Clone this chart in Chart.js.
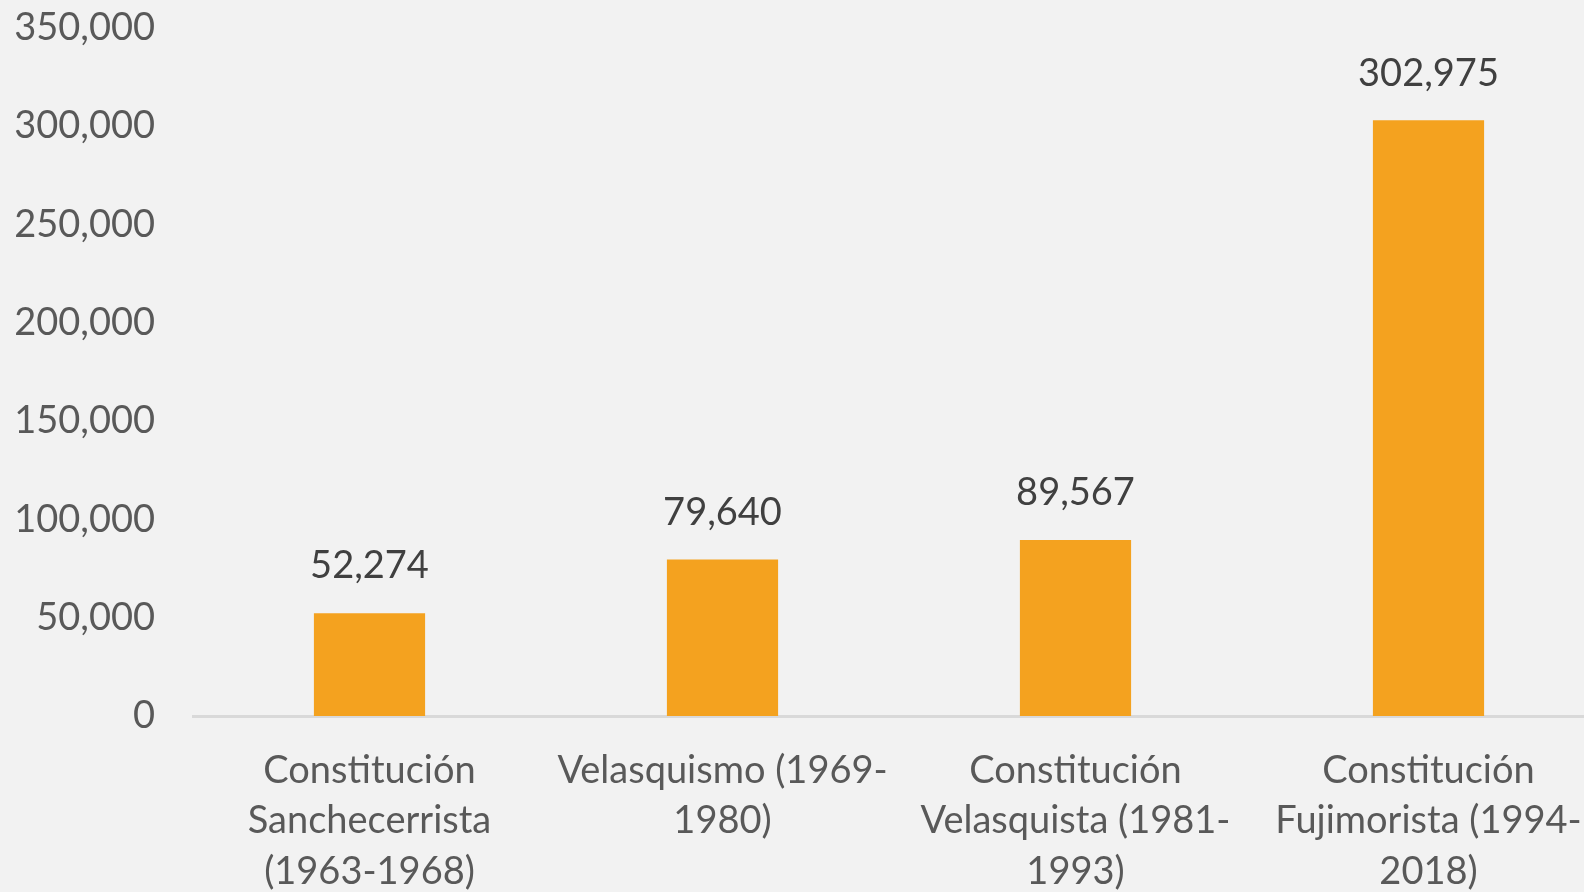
<!DOCTYPE html>
<html>
<head>
<meta charset="utf-8">
<script src="https://cdn.jsdelivr.net/npm/chart.js@4.4.1/dist/chart.umd.min.js"></script>
<style>
  html, body { margin: 0; padding: 0; background: #f2f2f2; overflow: hidden; }
  #wrap { position: relative; top: -25px; width: 1608px; height: 917px; }
</style>
</head>
<body>
<div id="wrap"><canvas id="chart"></canvas></div>
<script>
// Periods and values
const categories = [
  ['Constitución', 'Sanchecerrista', '(1963-1968)'],
  ['Velasquismo (1969-', '1980)'],
  ['Constitución', 'Velasquista (1981-', '1993)'],
  ['Constitución', 'Fujimorista (1994-', '2018)']
];
const values = [52274, 79640, 89567, 302975];
const yTicks = [0, 50000, 100000, 150000, 200000, 250000, 300000, 350000];

const fmt = (v) => v.toLocaleString('en-US');

// draws value labels above each bar
const barLabels = {
  id: 'barLabels',
  afterDatasetsDraw(chart) {
    const ctx = chart.ctx;
    const meta = chart.getDatasetMeta(0);
    ctx.save();
    ctx.fillStyle = '#404040';
    ctx.font = '38px Lato';
    ctx.textAlign = 'center';
    ctx.textBaseline = 'bottom';
    meta.data.forEach((bar, i) => {
      ctx.fillText(fmt(values[i]), bar.x, bar.y - 28);
    });
    ctx.restore();
  }
};

Chart.defaults.font.family = 'Lato';
Chart.defaults.color = '#595959';

new Chart(document.getElementById('chart').getContext('2d'), {
  type: 'bar',
  data: {
    labels: categories,
    datasets: [{
      data: values,
      backgroundColor: '#f4a21f',
      categoryPercentage: 1,
      barPercentage: 0.315
    }]
  },
  options: {
    responsive: true,
    maintainAspectRatio: false,
    animation: false,
    layout: { padding: { top: 6, right: 3, left: 0, bottom: 0 } },
    plugins: { legend: { display: false }, tooltip: { enabled: false } },
    scales: {
      x: {
        grid: { display: false },
        border: { color: '#d9d9d9', width: 3 },
        ticks: { font: { size: 38, lineHeight: 1.32 }, padding: 22, maxRotation: 0, autoSkip: false },
        afterFit: (s) => { s.height = 176; }
      },
      y: {
        min: 0,
        max: 350000,
        afterBuildTicks: (s) => { s.ticks = yTicks.map((v) => ({ value: v })); },
        grid: { display: false },
        border: { display: false },
        ticks: { font: { size: 38 }, padding: 30, callback: (v) => fmt(v) },
        afterFit: (s) => { s.width = 193; }
      }
    }
  },
  plugins: [barLabels]
});
</script>
</body>
</html>
